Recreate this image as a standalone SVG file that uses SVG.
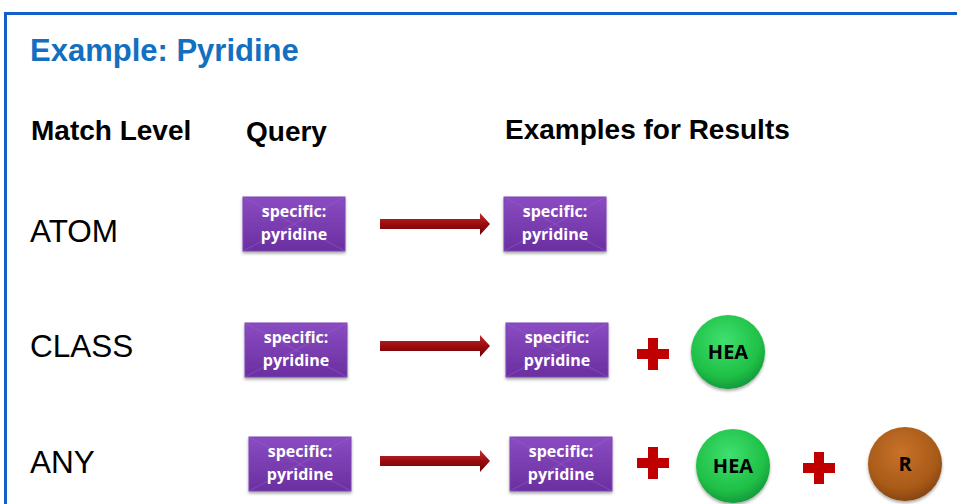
<svg xmlns="http://www.w3.org/2000/svg" width="957" height="504" viewBox="0 0 957 504">
<defs>
<linearGradient id="gBox" x1="0" y1="0" x2="0" y2="1">
<stop offset="0" stop-color="#8a4cc2"/><stop offset="1" stop-color="#6a2fa0"/>
</linearGradient>
<linearGradient id="gArrow" x1="0" y1="0" x2="0" y2="1">
<stop offset="0" stop-color="#c0302a"/><stop offset="0.5" stop-color="#9a0c10"/><stop offset="1" stop-color="#6e0006"/>
</linearGradient>
<radialGradient id="gGreen" cx="0.45" cy="0.35" r="0.7">
<stop offset="0" stop-color="#3fe070"/><stop offset="0.7" stop-color="#1fbf45"/><stop offset="1" stop-color="#11903a"/>
</radialGradient>
<radialGradient id="gBrown" cx="0.45" cy="0.35" r="0.7">
<stop offset="0" stop-color="#c8722a"/><stop offset="0.7" stop-color="#a85a18"/><stop offset="1" stop-color="#7e400c"/>
</radialGradient>
<filter id="sh" x="-20%" y="-20%" width="140%" height="150%">
<feDropShadow dx="0" dy="2" stdDeviation="1.5" flood-color="#000" flood-opacity="0.35"/>
</filter>
<g id="box">
<rect x="0" y="0" width="102" height="54" fill="url(#gBox)" stroke="#7d44b3" stroke-width="1" filter="url(#sh)"/>
<path d="M0 0 L51 27 L102 0 M0 54 L51 27 L102 54" stroke="#9a66cc" stroke-width="0.8" fill="none" opacity="0.6"/>
<text x="51" y="20" class="bt">specific:</text>
<text x="51" y="43" class="bt">pyridine</text>
</g>
<g id="arrow">
<path d="M0 -5 L100 -5 L100 -11 L110 0 L100 11 L100 5 L0 5 Z" fill="url(#gArrow)"/>
</g>
<g id="plus">
<path d="M-5 -16 H5 V-5 H16 V5 H5 V16 H-5 V5 H-16 V-5 H-5 Z" fill="#c00000"/>
</g>
</defs>
<style>
.title{font-family:"Liberation Sans",Arial,sans-serif;font-weight:bold;font-size:31px;fill:#1370c0}
.hdr{font-family:"Liberation Sans",Arial,sans-serif;font-weight:bold;font-size:28px;fill:#000}
.lvl{font-family:"Liberation Sans",Arial,sans-serif;font-size:31.5px;fill:#000}
.bt{font-family:"Open Sans","Liberation Sans",sans-serif;font-weight:bold;font-size:16px;fill:#fff;text-anchor:middle}
.ct{font-family:"Open Sans","Liberation Sans",sans-serif;font-weight:bold;font-size:20px;fill:#000;text-anchor:middle}
</style>
<rect width="957" height="504" fill="#fff"/>
<path d="M5.5 504 V13.5 H957" fill="none" stroke="#1560c8" stroke-width="3"/>
<text x="30" y="61" class="title">Example: Pyridine</text>
<text x="31" y="140" class="hdr">Match Level</text>
<text x="246" y="141" class="hdr">Query</text>
<text x="505" y="139" class="hdr">Examples for Results</text>
<text x="30" y="242" class="lvl">ATOM</text>
<text x="30" y="357" class="lvl">CLASS</text>
<text x="30" y="473" class="lvl">ANY</text>

<g id="q1"><use href="#box" x="243" y="197"/></g>
<g id="r1"><use href="#box" x="504" y="197"/></g>
<g id="q2"><use href="#box" x="245" y="323"/></g>
<g id="r2"><use href="#box" x="506" y="323"/></g>
<g id="q3"><use href="#box" x="249" y="437"/></g>
<g id="r3"><use href="#box" x="510" y="437"/></g>

<g id="hea2"><circle cx="728" cy="352" r="37" fill="url(#gGreen)" filter="url(#sh)"/><text x="728" y="359" class="ct">HEA</text></g>
<g id="hea3"><circle cx="733" cy="466" r="37" fill="url(#gGreen)" filter="url(#sh)"/><text x="733" y="473" class="ct">HEA</text></g>
<g id="r"><circle cx="905" cy="464" r="37" fill="url(#gBrown)" filter="url(#sh)"/><text x="905" y="471" class="ct">R</text></g>

<g id="connectors">
<use href="#arrow" x="380" y="224"/>
<use href="#arrow" x="380" y="346"/>
<use href="#arrow" x="380" y="461"/>
<use href="#plus" x="653" y="354"/>
<use href="#plus" x="653" y="463"/>
<use href="#plus" x="819" y="468"/>
</g>
</svg>
